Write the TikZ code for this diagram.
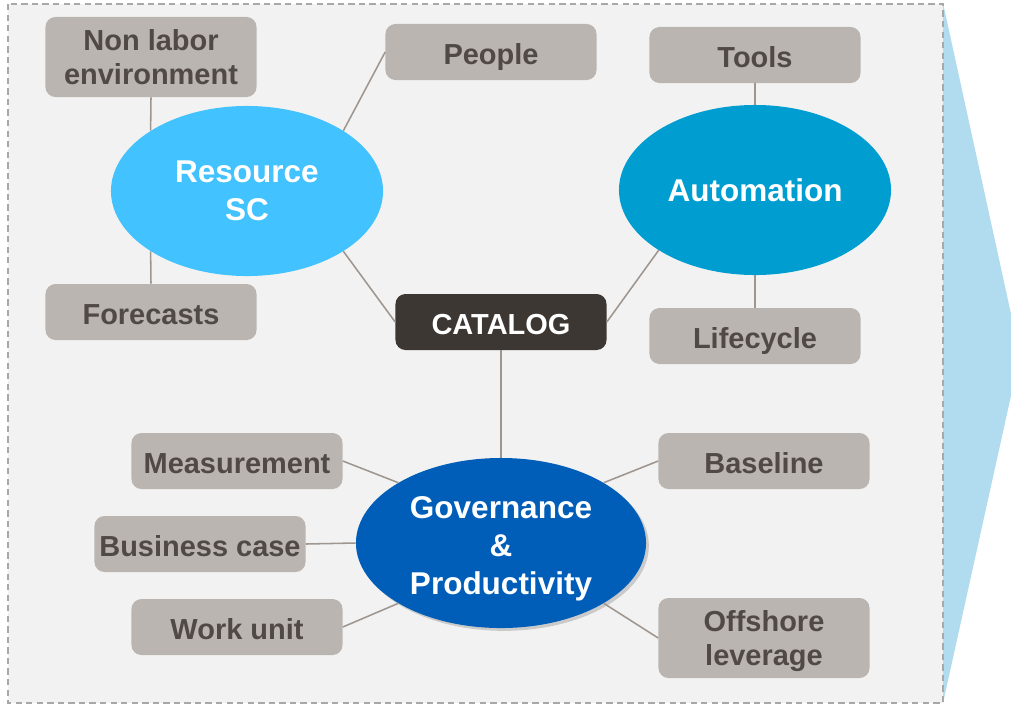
\documentclass[tikz,border=0pt]{standalone}
\usepackage{fontspec}
\setmainfont{Liberation Sans}
\usetikzlibrary{shapes.geometric,shadows}

\definecolor{panelgray}{HTML}{F2F2F2}
\definecolor{framegray}{HTML}{A8A8A8}
\definecolor{boxgray}{HTML}{BAB5B0}
\definecolor{boxtext}{HTML}{514946}
\definecolor{linkgray}{HTML}{9E968F}
\definecolor{catalogdark}{HTML}{3D3734}
\definecolor{resblue}{HTML}{42C2FE}
\definecolor{autoblue}{HTML}{009DD1}
\definecolor{govblue}{HTML}{005EB8}
\definecolor{arrowblue}{HTML}{B1DBEF}

% last line without descender, so the text sits centred like the slide
\newcommand{\flatline}[1]{\raisebox{0pt}[\height][0pt]{#1}}

\tikzset{
    item/.style={rectangle, rounded corners=0.25cm, fill=boxgray, text=boxtext, align=center,
        minimum width=5.275cm, minimum height=1.4cm, inner sep=0pt,
        text height=17.7pt, text depth=0pt,
        font=\fontsize{20.6}{23.8}\selectfont\bfseries},
    twoline/.style={minimum height=2cm, text height={}, text depth={}},
    topic/.style={ellipse, minimum width=6.8cm, minimum height=4.25cm, inner sep=0pt,
        text=white, align=center, font=\fontsize{22.4}{27.2}\selectfont\bfseries},
    link/.style={draw=linkgray, line width=1.1pt},
}

\begin{document}
\begin{tikzpicture}[x=0.025cm, y=-0.025cm]
    \useasboundingbox (0, 0) rectangle (1011, 705);
    \clip (0, 0) rectangle (1011, 705);

    % chevron and panel
    \fill[arrowblue] (943, 3) -- (1020, 355) -- (943, 703) -- cycle;
    \draw[framegray, fill=panelgray, line width=1.1pt, dash pattern=on 4.5pt off 3pt] (8, 4) rectangle (943, 703);

    % topics
    \node[topic, fill=resblue]  (res)  at (247, 191) {Resource\\SC};
    \node[topic, fill=autoblue] (auto) at (755, 190) {Automation};
    \node[topic, fill=govblue, minimum width=7.25cm,
          drop shadow={opacity=0.35, shadow xshift=2pt, shadow yshift=-2pt}]
                                (gov)  at (501, 543) {\rule{0pt}{19.5pt}Governance\\\&\\\flatline{Productivity}};
    \node[item, fill=catalogdark, text=white] (cat) at (501, 322) {CATALOG};

    % items
    \node[item, twoline] (nonlab)  at (151, 57)  {Non labor\\environment};
    \node[item]          (people)  at (491, 52)  {People};
    \node[item]          (tools)   at (755, 55)  {Tools};
    \node[item]          (fcast)   at (151, 312) {Forecasts};
    \node[item]          (life)    at (755, 336) {Lifecycle};
    \node[item]          (meas)    at (237, 461) {Measurement};
    \node[item]          (base)    at (764, 461) {Baseline};
    \node[item]          (bcase)   at (200, 544) {Business case};
    \node[item]          (wunit)   at (237, 627) {Work unit};
    \node[item, twoline] (offsh)   at (764, 638) {Offshore\\\flatline{leverage}};

    % links
    \draw[link] (nonlab.south) -- (res.north west);   % Non labor -- Resource
    \draw[link] (people.west)  -- (res.north east);   % People -- Resource
    \draw[link] (fcast.north)  -- (res.south west);   % Forecasts -- Resource
    \draw[link] (res.south east) -- (cat.west);       % Resource -- CATALOG
    \draw[link] (tools.south)  -- (auto.north);       % Tools -- Automation
    \draw[link] (life.north)   -- (auto.south);       % Lifecycle -- Automation
    \draw[link] (auto.south west) -- (cat.east);      % Automation -- CATALOG
    \draw[link] (cat.south)    -- (gov.north);        % CATALOG -- Governance
    \draw[link] (meas.east)    -- (gov.north west);   % Measurement -- Governance
    \draw[link] (base.west)    -- (gov.north east);   % Baseline -- Governance
    \draw[link] (bcase.east)   -- (gov.west);         % Business case -- Governance
    \draw[link] (wunit.east)   -- (gov.south west);   % Work unit -- Governance
    \draw[link] (offsh.west)   -- (gov.south east);   % Offshore -- Governance
\end{tikzpicture}
\end{document}
